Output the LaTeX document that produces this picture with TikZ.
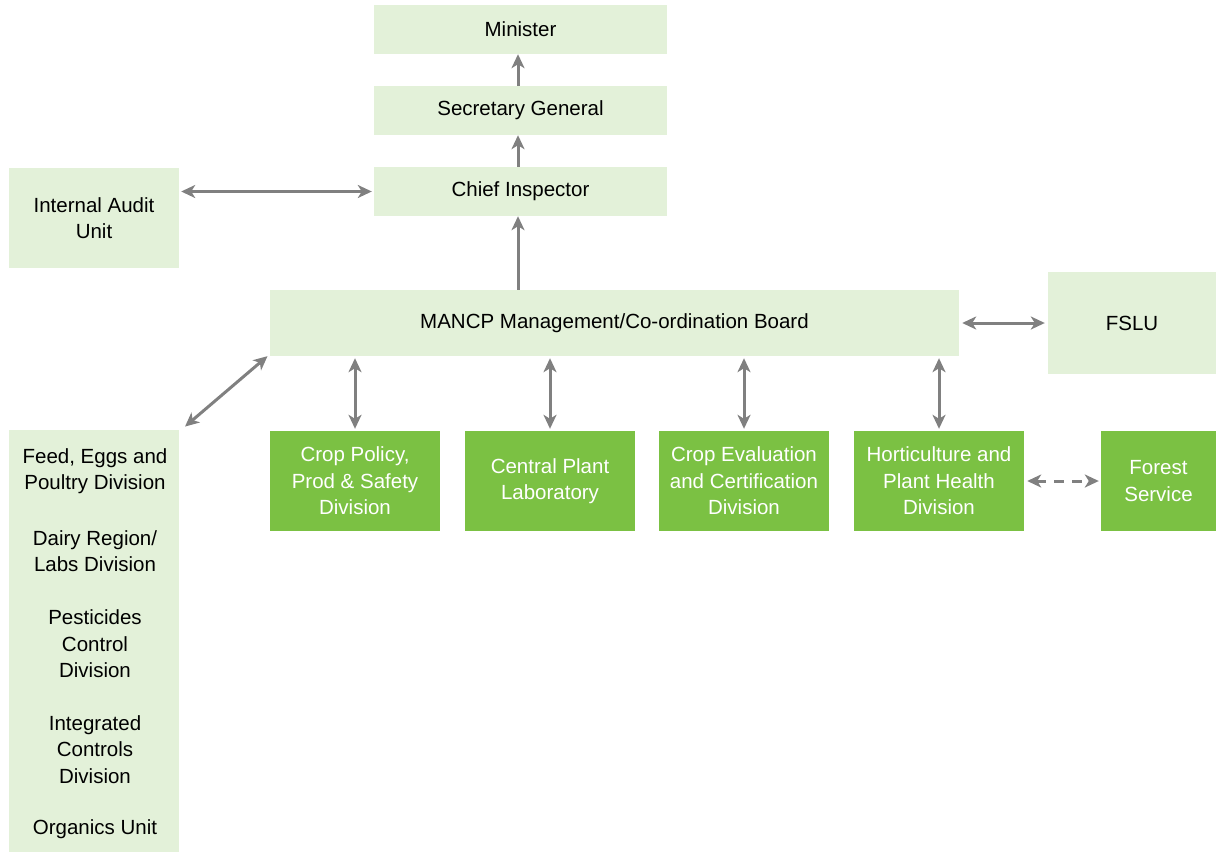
\documentclass[tikz,border=0pt]{standalone}
\usepackage{fontspec}
\setmainfont{Liberation Sans}
\usetikzlibrary{arrows.meta}
\definecolor{paleg}{HTML}{E3F1D9}
\definecolor{darkg}{HTML}{7BC143}
\definecolor{linkg}{HTML}{808080}
\begin{document}
\begin{tikzpicture}[x=1pt,y=-1pt,
  every node/.style={font=\fontsize{20.5}{26.5}\selectfont, align=center, inner sep=0pt},
  lbox/.style={rectangle, fill=paleg, text=black},
  gbox/.style={rectangle, fill=darkg, text=white, minimum width=170, minimum height=100},
  link/.style={draw=linkg, line width=3pt, {Stealth[length=14pt,width=13pt,inset=4pt]}-{Stealth[length=14pt,width=13pt,inset=4pt]}},
  uplink/.style={draw=linkg, line width=3pt, -{Stealth[length=14pt,width=13pt,inset=4pt]}},
  listitem/.style={text=black}]
\useasboundingbox (0,0) rectangle (1217,852);

% top chain
\node[lbox, minimum width=293, minimum height=49] (min) at (520.5,29.5) {Minister};
\node[lbox, minimum width=293, minimum height=49] (sec) at (520.5,110.5) {Secretary General};
\node[lbox, minimum width=293, minimum height=49] (chief) at (520.5,191.5) {Chief Inspector};
\node[lbox, minimum width=170, minimum height=100] (audit) at (94,218) {Internal Audit\\Unit};

% board and FSLU
\node[lbox, minimum width=689, minimum height=66] (board) at (614.5,323) {MANCP Management/Co-ordination Board};
\node[lbox, minimum width=168, minimum height=102] (fslu) at (1132,323) {FSLU};

% left column of divisions
\node[lbox, minimum width=170, minimum height=422] (left) at (94,641) {};
\node[listitem] (feed) at (95,471) {Feed, Eggs and\\Poultry Division};
\node[listitem] (dairy) at (95,551) {Dairy Region/\\Labs Division};
\node[listitem] (pest) at (95,644) {Pesticides\\Control\\Division};
\node[listitem] (integ) at (95,749.5) {Integrated\\Controls\\Division};
\node[listitem] (organ) at (95,829) {Organics Unit};

% plant divisions
\node[gbox] (crop) at (355,481) {Crop Policy,\\Prod \& Safety\\Division};
\node[gbox] (cpl) at (550,481) {Central Plant\\Laboratory};
\node[gbox] (eval) at (744,481) {Crop Evaluation\\and Certification\\Division};
\node[gbox] (hort) at (939,481) {Horticulture and\\Plant Health\\Division};
\node[gbox, minimum width=115] (forest) at (1158.5,481) {Forest\\Service};

% reporting lines
\draw[uplink] (sec.north -| 518,0) -- (min.south -| 518,0);
\draw[uplink] (chief.north -| 518,0) -- (sec.south -| 518,0);
\draw[uplink] (board.north -| 518,0) -- (chief.south -| 518,0);
\draw[link, shorten <=2pt, shorten >=2pt] (audit.east |- chief.west) -- (chief.west);
\draw[link, shorten <=3pt, shorten >=3pt] (board.east) -- (fslu.west);
\draw[link, shorten <=5pt, shorten >=3pt] ([xshift=2pt]left.north east) -- ([yshift=2pt]board.south west);
\foreach \d in {crop,cpl,eval,hort}
  \draw[link, shorten <=2pt, shorten >=2pt] (\d.north) -- (\d.north |- board.south);
\draw[link, dash pattern=on 10pt off 8pt, shorten <=3pt, shorten >=2pt] (hort.east) -- (forest.west);
\end{tikzpicture}
\end{document}
